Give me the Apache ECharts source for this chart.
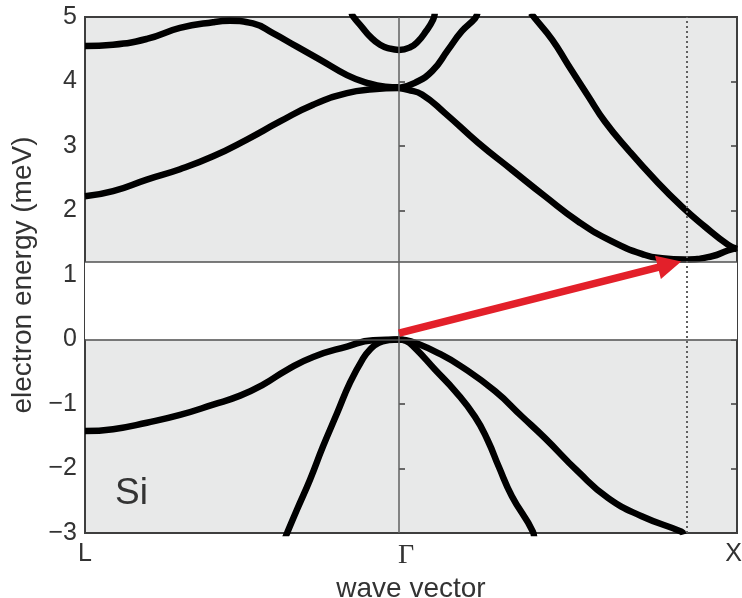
<!DOCTYPE html>
<html>
<head>
<meta charset="utf-8">
<style>
  html, body { margin: 0; padding: 0; background: #ffffff; }
  #chart { width: 742px; height: 598px; }
</style>
<script src="https://cdn.jsdelivr.net/npm/echarts@6/dist/echarts.min.js"></script>
</head>
<body>
<div id="chart"></div>
<script>
// Silicon band structure along L – Γ – X (k measured from Γ, X at 1)
const kTicks = [-0.929, 0, 1];
const kTickLabels = ['L', 'Γ', 'X'];
const energyTicks = [-3, -2, -1, 0, 1, 2, 3, 4, 5];

// conduction bands, [k, E]
const bandUpperL = [[-0.929, 4.55], [-0.846, 4.57], [-0.746, 4.66], [-0.648, 4.83], [-0.55, 4.92], [-0.5, 4.94], [-0.432, 4.9], [-0.373, 4.75], [-0.302, 4.54], [-0.234, 4.34], [-0.154, 4.1], [-0.095, 3.98], [-0.04, 3.92], [0, 3.91]];
const bandLowerL = [[-0.929, 2.22], [-0.846, 2.3], [-0.746, 2.48], [-0.648, 2.64], [-0.55, 2.84], [-0.45, 3.1], [-0.352, 3.38], [-0.254, 3.64], [-0.154, 3.82], [-0.077, 3.88], [0, 3.9]];
const bandGammaCup = [[-0.14, 5.06], [-0.136, 5.01], [-0.109, 4.84], [-0.086, 4.7], [-0.056, 4.57], [-0.027, 4.51], [0, 4.49], [0.033, 4.53], [0.056, 4.62], [0.08, 4.78], [0.101, 4.96], [0.106, 5.06]];
const bandSteepX = [[0, 3.9], [0.047, 3.98], [0.098, 4.16], [0.145, 4.49], [0.186, 4.78], [0.225, 4.98], [0.232, 5.06]];
const bandConduction = [[0, 3.9], [0.027, 3.87], [0.068, 3.8], [0.136, 3.51], [0.234, 3.05], [0.334, 2.63], [0.432, 2.22], [0.53, 1.83], [0.63, 1.52], [0.728, 1.31], [0.778, 1.26], [0.846, 1.24], [0.926, 1.29], [0.973, 1.38], [1, 1.42]];
const bandUpperX = [[0.39, 5.06], [0.402, 4.98], [0.453, 4.65], [0.5, 4.26], [0.559, 3.78], [0.609, 3.38], [0.678, 2.94], [0.757, 2.48], [0.837, 2.06], [0.905, 1.75], [0.973, 1.47], [1, 1.4]];

// valence bands, [k, E]
const bandHeavyL = [[-0.929, -1.42], [-0.846, -1.39], [-0.746, -1.29], [-0.648, -1.17], [-0.55, -1.01], [-0.47, -0.87], [-0.402, -0.7], [-0.331, -0.47], [-0.254, -0.27], [-0.154, -0.11], [-0.077, -0.01], [0, 0]];
const bandLightL = [[0, 0], [-0.03, -0.01], [-0.06, -0.05], [-0.085, -0.15], [-0.107, -0.3], [-0.145, -0.67], [-0.183, -1.14], [-0.225, -1.66], [-0.263, -2.17], [-0.302, -2.64], [-0.331, -3.0], [-0.337, -3.08]];
const bandLightX = [[0, 0], [0.02, -0.02], [0.047, -0.13], [0.107, -0.47], [0.166, -0.8], [0.225, -1.2], [0.263, -1.57], [0.295, -1.97], [0.334, -2.43], [0.396, -2.98], [0.4, -3.08]];
const bandHeavyX = [[0, 0], [0.02, -0.01], [0.047, -0.05], [0.116, -0.21], [0.185, -0.42], [0.284, -0.8], [0.363, -1.19], [0.432, -1.53], [0.53, -2.05], [0.619, -2.46], [0.718, -2.74], [0.836, -2.98], [0.842, -3.02]];

// band edges and marks
const gapEdges = [0, 1.2];
const gammaK = 0;
const cbMinK = 0.846;
const transition = [[0, 0.1, 0.835, 1.21]];   // indirect transition: [k0, E0, k1, E1]

const RED = '#e3202a';
const TEXT = '#333333';
const SANS = '"Liberation Sans", Arial, Helvetica, sans-serif';

const bandList = [bandUpperL, bandLowerL, bandGammaCup, bandSteepX, bandConduction, bandUpperX,
                  bandHeavyL, bandLightL, bandLightX, bandHeavyX];

const chart = echarts.init(document.getElementById('chart'), null, { renderer: 'canvas' });

const bandSeries = bandList.map(function (pts) {
  return {
    type: 'line',
    data: pts,
    showSymbol: false,
    symbol: 'none',
    smooth: 0.5,
    clip: true,
    z: 3,
    silent: true,
    lineStyle: { color: '#000000', width: 6.5, cap: 'butt', join: 'round' }
  };
});

chart.setOption({
  animation: false,
  backgroundColor: '#ffffff',
  grid: {
    left: 85, right: 5, top: 17, bottom: 65,
    outerBoundsMode: 'none',
    containLabel: false,
    show: true,
    backgroundColor: '#e8e9e9',
    borderColor: '#3e3e3e',
    borderWidth: 2
  },
  xAxis: {
    type: 'value',
    min: kTicks[0],
    max: kTicks[kTicks.length - 1],
    name: 'wave vector',
    nameLocation: 'middle',
    nameGap: 37,
    nameTextStyle: { fontFamily: SANS, fontSize: 28, color: TEXT },
    axisLine: { show: false },
    axisTick: { show: false },
    splitLine: { show: false },
    axisLabel: {
      customValues: kTicks,
      margin: 9,
      fontFamily: SANS,
      fontSize: 25,
      color: TEXT,
      formatter: function (v) {
        let best = 0;
        for (let i = 1; i < kTicks.length; i++) {
          if (Math.abs(kTicks[i] - v) < Math.abs(kTicks[best] - v)) best = i;
        }
        const s = kTickLabels[best];
        if (best === 1) return '{g|' + s + '}';
        if (best === kTicks.length - 1) return '{e|' + s + '}';
        return s;
      },
      rich: {
        g: { fontFamily: '"Liberation Serif", "DejaVu Serif", serif', fontSize: 28, color: TEXT, padding: [0, 0, 0, 14] },
        e: { fontFamily: SANS, fontSize: 25, color: TEXT, padding: [0, 7, 0, 0] }
      }
    }
  },
  yAxis: [
    {
      type: 'value',
      min: energyTicks[0],
      max: energyTicks[energyTicks.length - 1],
      interval: 1,
      name: 'electron energy (meV)',
      nameLocation: 'middle',
      nameGap: 48,
      nameTextStyle: { fontFamily: SANS, fontSize: 28, color: TEXT },
      axisLine: { show: false },
      axisTick: { show: true, inside: true, length: 6, lineStyle: { color: '#3e3e3e', width: 1.5 } },
      splitLine: { show: false },
      axisLabel: {
        margin: 8,
        fontFamily: SANS,
        fontSize: 25,
        color: TEXT,
        formatter: function (v) { return v < 0 ? '\u2212' + Math.abs(v) : String(v); }
      }
    },
    {
      type: 'value',
      position: 'right',
      min: energyTicks[0],
      max: energyTicks[energyTicks.length - 1],
      interval: 1,
      axisLine: { show: false },
      axisTick: { show: true, inside: true, length: 6, lineStyle: { color: '#3e3e3e', width: 1.5 } },
      axisLabel: { show: false },
      splitLine: { show: false }
    }
  ],
  graphic: [
    {
      type: 'text',
      left: 115,
      top: 475,
      z: 10,
      style: { text: 'Si', font: '37px ' + SANS, fill: TEXT }
    }
  ],
  series: [
    {
      // band gap window, band edges and symmetry-point guides
      type: 'line',
      data: [],
      z: 1,
      silent: true,
      markArea: {
        silent: true,
        itemStyle: { color: '#ffffff' },
        data: [[{ yAxis: gapEdges[0] }, { yAxis: gapEdges[1] }]]
      },
      markLine: {
        silent: true,
        symbol: ['none', 'none'],
        label: { show: false },
        animation: false,
        data: [
          { yAxis: gapEdges[0], lineStyle: { color: '#505050', width: 1.5, type: 'solid' } },
          { yAxis: gapEdges[1], lineStyle: { color: '#505050', width: 1.5, type: 'solid' } },
          { xAxis: gammaK, lineStyle: { color: '#606060', width: 1.5, type: 'solid' } },
          { xAxis: cbMinK, lineStyle: { color: '#606060', width: 2, type: [2, 3] } }
        ]
      }
    }
  ].concat(bandSeries).concat([
    {
      type: 'custom',
      z: 5,
      silent: true,
      data: transition,
      encode: { x: [0, 2], y: [1, 3] },
      renderItem: function (params, api) {
        const p0 = api.coord([api.value(0), api.value(1)]);
        const p1 = api.coord([api.value(2), api.value(3)]);
        const dx = p1[0] - p0[0], dy = p1[1] - p0[1];
        const len = Math.sqrt(dx * dx + dy * dy);
        const ux = dx / len, uy = dy / len;
        const nx = -uy, ny = ux;
        const headLen = 24, headHalf = 12;
        const bx = p1[0] - ux * headLen, by = p1[1] - uy * headLen;
        return {
          type: 'group',
          children: [
            {
              type: 'line',
              shape: { x1: p0[0], y1: p0[1], x2: bx + ux * 2, y2: by + uy * 2 },
              style: { stroke: RED, lineWidth: 7.5, lineCap: 'butt' }
            },
            {
              type: 'polygon',
              shape: { points: [[p1[0], p1[1]], [bx + nx * headHalf, by + ny * headHalf], [bx - nx * headHalf, by - ny * headHalf]] },
              style: { fill: RED }
            }
          ]
        };
      }
    }
  ])
});
</script>
</body>
</html>
